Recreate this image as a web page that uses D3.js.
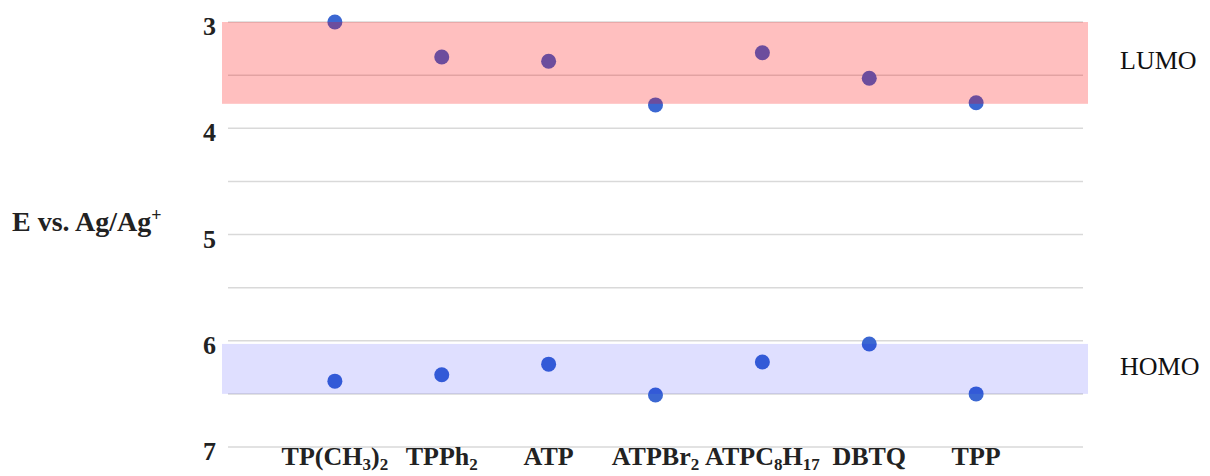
<!DOCTYPE html>
<html>
<head>
<meta charset="utf-8">
<script src="https://cdn.jsdelivr.net/npm/d3@7"></script>
<style>
  body { margin: 0; background: #fff; }
  text { font-family: "Liberation Serif", "DejaVu Serif", serif; }
</style>
</head>
<body>
<div id="chart"></div>
<script>
var
  width = 1210,
  height = 476;

// compound names, split in parts: [text, isSubscript]
var compounds = [
  [["TP(CH", 0], ["3", 1], [")", 0], ["2", 1]],
  [["TPPh", 0], ["2", 1]],
  [["ATP", 0]],
  [["ATPBr", 0], ["2", 1]],
  [["ATPC", 0], ["8", 1], ["H", 0], ["17", 1]],
  [["DBTQ", 0]],
  [["TPP", 0]]
];
var lumo = [3.00, 3.33, 3.37, 3.78, 3.29, 3.53, 3.76];
var homo = [6.38, 6.32, 6.22, 6.51, 6.20, 6.03, 6.50];
var yTicks = [3, 4, 5, 6, 7];
var yGrid = [3, 3.5, 4, 4.5, 5, 5.5, 6, 6.5, 7];
var lumoBand = [3.0, 3.77];
var homoBand = [6.03, 6.5];

var svg = d3.select("#chart")
  .append("svg")
  .attr("width", width)
  .attr("height", height);

var x = d3.scalePoint()
  .domain(d3.range(compounds.length))
  .range([228, 1083])
  .padding(1);

var y = d3.scaleLinear()
  .domain([3, 7])
  .range([22, 447]);

// grid
svg.selectAll(".grid")
  .data(yGrid)
  .enter().append("line")
  .attr("x1", 228).attr("x2", 1083)
  .attr("y1", function(d) { return y(d); })
  .attr("y2", function(d) { return y(d); })
  .attr("stroke", "#d9d9d9")
  .attr("stroke-width", 1.5);

// tick labels
svg.selectAll(".tick")
  .data(yTicks)
  .enter().append("text")
  .attr("x", 216)
  .attr("y", function(d) { return y(d) + 13; })
  .attr("text-anchor", "end")
  .attr("font-size", 26)
  .attr("font-weight", "bold")
  .attr("fill", "#222")
  .text(function(d) { return d; });

// points
var dotColor = "#3b67d2";
svg.selectAll(".lumo")
  .data(lumo)
  .enter().append("circle")
  .attr("cx", function(d, i) { return x(i); })
  .attr("cy", function(d) { return y(d); })
  .attr("r", 7.5)
  .attr("fill", dotColor);

svg.selectAll(".homo")
  .data(homo)
  .enter().append("circle")
  .attr("cx", function(d, i) { return x(i); })
  .attr("cy", function(d) { return y(d); })
  .attr("r", 7.5)
  .attr("fill", dotColor);

// translucent bands on top
svg.append("rect")
  .attr("x", 222).attr("width", 1088 - 222)
  .attr("y", y(lumoBand[0]))
  .attr("height", y(lumoBand[1]) - y(lumoBand[0]))
  .attr("fill", "#ff0000")
  .attr("fill-opacity", 0.25);

svg.append("rect")
  .attr("x", 222).attr("width", 1088 - 222)
  .attr("y", y(homoBand[0]))
  .attr("height", y(homoBand[1]) - y(homoBand[0]))
  .attr("fill", "#0000ff")
  .attr("fill-opacity", 0.125);

// band labels
svg.append("text")
  .attr("x", 1120).attr("y", 69)
  .attr("font-size", 26)
  .attr("fill", "#111")
  .text("LUMO");

svg.append("text")
  .attr("x", 1120).attr("y", 375)
  .attr("font-size", 26)
  .attr("fill", "#111")
  .text("HOMO");

// category labels
var labels = svg.selectAll(".xlab")
  .data(compounds)
  .enter().append("text")
  .attr("x", function(d, i) { return x(i); })
  .attr("y", 465)
  .attr("text-anchor", "middle")
  .attr("font-size", 26)
  .attr("font-weight", "bold")
  .attr("fill", "#222");

labels.each(function(parts) {
  var t = d3.select(this);
  var down = false;
  parts.forEach(function(p) {
    var s = t.append("tspan")
      .attr("font-size", p[1] ? 17 : 26)
      .text(p[0]);
    if (p[1] && !down) { s.attr("dy", 5); down = true; }
    else if (!p[1] && down) { s.attr("dy", -5); down = false; }
  });
});

// y axis title
var title = svg.append("text")
  .attr("x", 12).attr("y", 231)
  .attr("font-size", 28)
  .attr("font-weight", "bold")
  .attr("fill", "#222");
title.append("tspan").text("E vs. Ag/Ag");
title.append("tspan").attr("font-size", 18).attr("dy", -10).text("+");
</script>
</body>
</html>
